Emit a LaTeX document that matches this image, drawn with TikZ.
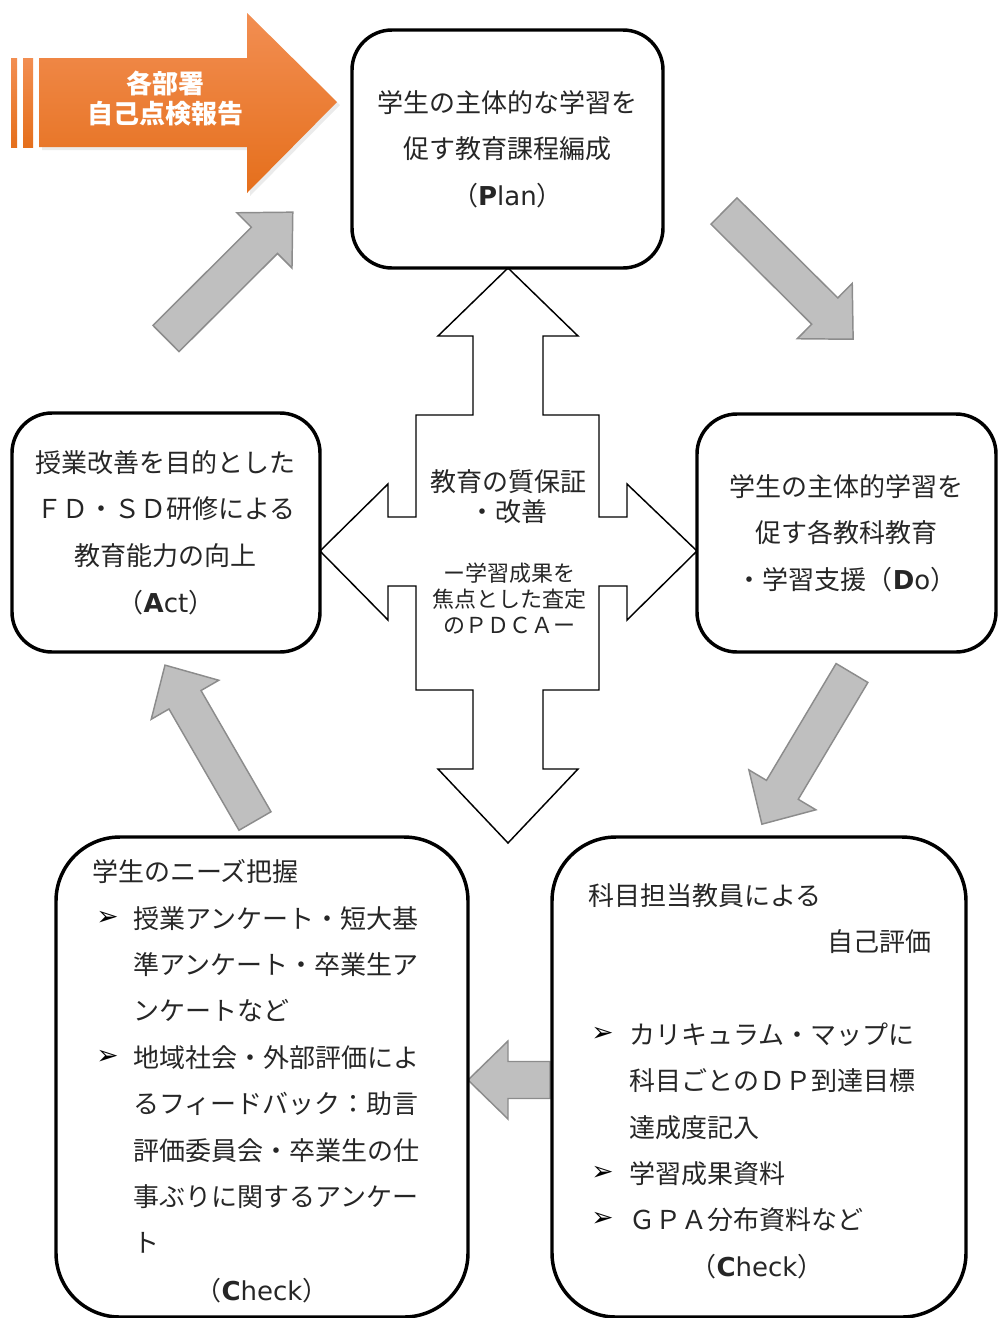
\documentclass[tikz,border=0pt]{standalone}
\usepackage{fontspec}
\setmainfont{Noto Sans CJK JP}
\newfontfamily\latf{DejaVu Sans}
\newfontfamily\bulf{DejaVu Sans}
\newcommand\mainsz{\fontsize{19.5}{35}\selectfont}
\newcommand\bl[1]{{\latf\bfseries #1}}
\newcommand\lt[1]{{\latf #1}}
\definecolor{txt}{HTML}{262626}
\definecolor{gfill}{HTML}{BFBFBF}
\definecolor{gdraw}{HTML}{8C8C8C}
\definecolor{orT}{HTML}{F28E52}
\definecolor{orB}{HTML}{E56F1C}
\newcommand\garrow[5]{%
  \begin{scope}[shift={(#2,#3)},rotate=#4]
    \draw[garrowsty] (0,-18.5) -- ({#5-40},-18.5) -- ({#5-40},-39) -- (#5,0)
      -- ({#5-40},39) -- ({#5-40},18.5) -- (0,18.5) -- cycle;
    \coordinate (#1) at (#5,0);
  \end{scope}}
\tikzset{
  garrowsty/.style={fill=gfill, draw=gdraw, line width=1.1pt, line join=miter},
  cbox/.style={draw=black, line width=2.6pt, rounded corners=30pt, fill=white,
    inner sep=0pt, align=center, text=txt, font=\mainsz},
  bbox/.style={draw=black, line width=2.6pt, rounded corners=48pt, fill=white, inner sep=0pt},
  ltxt/.style={anchor=base west, inner sep=0pt, text=txt, font=\mainsz},
  bul/.style={anchor=west, inner sep=0pt, text=black, font=\bulf\fontsize{20}{20}\selectfont},
  crossty/.style={draw=black, line width=1.1pt, fill=white, line join=miter},
}
\begin{document}
\begin{tikzpicture}[x=0.75pt,y=-0.75pt]
\useasboundingbox (0,0) rectangle (998,1318);

% orange arrow (with soft shadow)
\fill[black!8] (42,61) -- (250,61) -- (250,16) -- (340,105)
  -- (250,196) -- (250,150) -- (42,150) -- cycle;
\shade[top color=orT, bottom color=orB] (11,58) rectangle (17,147);
\shade[top color=orT, bottom color=orB] (23,58) rectangle (33,147);
\shade[top color=orT, bottom color=orB] (39,58) -- (247,58) -- (247,13) -- (337,102)
  -- (247,193) -- (247,147) -- (39,147) -- cycle;
\node[text=white, font=\bfseries\fontsize{19.5}{22.5}\selectfont, align=center, inner sep=0pt]
  (report) at (165,99) {各部署\\自己点検報告};

% gray cycle arrows
\garrow{a1}{166}{338.5}{44.9}{179}
\garrow{a2}{724}{211}{-44.8}{182}
\garrow{a3}{852}{673}{-120.8}{176}
\garrow{a4}{255}{821}{120}{180}
\garrow{a5}{550}{1080}{180}{82}

% central cross arrow
\draw[crossty] (508,268) -- (578,336) -- (543,336) -- (543,415) -- (599,415) -- (599,517)
  -- (627,517) -- (627,484) -- (697,551) -- (627,620) -- (627,586) -- (599,586)
  -- (599,690) -- (543,690) -- (543,769) -- (578,769) -- (508,843) -- (438,769)
  -- (473,769) -- (473,690) -- (416,690) -- (416,586) -- (388,586) -- (388,620)
  -- (320,551) -- (388,484) -- (388,517) -- (416,517) -- (416,415) -- (473,415)
  -- (473,336) -- (438,336) -- cycle;
\node[text=txt, font=\fontsize{19.5}{22.5}\selectfont, align=center, inner sep=0pt]
  (q1) at (508,497) {教育の質保証\\・改善};
\node[text=txt, font=\fontsize{16.5}{19.5}\selectfont, align=center, inner sep=0pt]
  (q2) at (509,599) {ー学習成果を\\焦点とした査定\\のＰＤＣＡー};

% main boxes
\node[cbox, minimum width=233.25pt, minimum height=178.5pt] (plan) at (507.5,149)
  {学生の主体的な学習を\\促す教育課程編成\\（\bl{P}\lt{lan}）};
\node[cbox, minimum width=224.25pt, minimum height=178.5pt] (do) at (846.5,533)
  {学生の主体的学習を\\促す各教科教育\\・学習支援（\bl{D}\lt{o}）};
\node[cbox, minimum width=231pt, minimum height=179.25pt] (act) at (166,532.5)
  {授業改善を目的とした\\ＦＤ・ＳＤ研修による\\教育能力の向上\\（\bl{A}\lt{ct}）};

\node[bbox, minimum width=309pt, minimum height=360pt] (checkL) at (262,1077) {};
\node[bbox, minimum width=310.5pt, minimum height=360pt] (checkR) at (759,1077) {};

% left check text
\node[ltxt] (l1) at (92,881) {学生のニーズ把握};
\node[bul] (lb1) at (96,918) {➢};
\node[ltxt] (l2) at (133,928) {授業アンケート・短大基};
\node[ltxt] (l3) at (133,974) {準アンケート・卒業生ア};
\node[ltxt] (l4) at (133,1020) {ンケートなど};
\node[bul] (lb2) at (96,1057) {➢};
\node[ltxt] (l5) at (133,1067) {地域社会・外部評価によ};
\node[ltxt] (l6) at (133,1113) {るフィードバック：助言};
\node[ltxt] (l7) at (133,1160) {評価委員会・卒業生の仕};
\node[ltxt] (l8) at (133,1206) {事ぶりに関するアンケー};
\node[ltxt] (l9) at (133,1252) {ト};
\node[ltxt, anchor=base] (l10) at (262,1300) {（\bl{C}\lt{heck}）};

% right check text
\node[ltxt] (r1) at (588,905) {科目担当教員による};
\node[ltxt, anchor=base east] (r2) at (932,951) {自己評価};
\node[bul] (rb1) at (591,1034) {➢};
\node[ltxt] (r3) at (629,1044) {カリキュラム・マップに};
\node[ltxt] (r4) at (629,1090) {科目ごとのＤＰ到達目標};
\node[ltxt] (r5) at (629,1137) {達成度記入};
\node[bul] (rb2) at (591,1173) {➢};
\node[ltxt] (r6) at (629,1183) {学習成果資料};
\node[bul] (rb3) at (591,1219) {➢};
\node[ltxt] (r7) at (629,1229) {ＧＰＡ分布資料など};
\node[ltxt, anchor=base] (r8) at (757,1276) {（\bl{C}\lt{heck}）};
\end{tikzpicture}
\end{document}
